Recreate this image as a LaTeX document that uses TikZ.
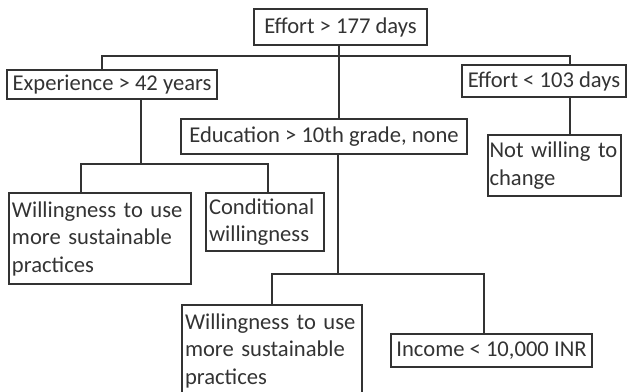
\documentclass[tikz,border=0pt]{standalone}
\usepackage{fontspec}
\setmainfont{Carlito}
\definecolor{ink}{HTML}{333333}
\begin{document}
\begin{tikzpicture}[x=1pt,y=-1pt,
  box/.style={draw=ink, line width=1.6pt, text=ink, inner xsep=3pt, inner ysep=0pt,
    font=\fontsize{22.6}{27.5}\selectfont},
  mbox/.style={box, align=left},
  link/.style={draw=ink, line width=1.6pt}]
\useasboundingbox (0,0) rectangle (629,391);
\clip (0,0) rectangle (629,391);
% boxes
\node[box, minimum width=173pt, minimum height=36pt] (root) at (340.5,27) {Effort > 177 days};
\node[box, minimum width=210pt, minimum height=29pt] (exp) at (112,84.5) {Experience > 42 years};
\node[box, minimum width=164pt, minimum height=32pt] (eff) at (544,81) {Effort < 103 days};
\node[box, minimum width=286pt, minimum height=35pt] (edu) at (324,136.5) {Education > 10th grade, none};
\node[mbox, text width=176pt, minimum height=91pt] (willa) at (100,238.5) {Willingness to use\\more sustainable\\practices};
\node[mbox, text width=112pt, minimum height=58pt] (cond) at (265,222) {Conditional\\willingness};
\node[mbox, inner xsep=1.5pt, text width=130pt, minimum height=61pt] (notw) at (554.5,165.5) {Not willing to\\change};
\node[mbox, text width=174pt, minimum height=91pt] (willb) at (272,350.5) {Willingness to use\\more sustainable\\practices};
\node[box, minimum width=201pt, minimum height=33pt] (inc) at (491.5,350.5) {Income < 10,000 INR};
% junctions
\coordinate (bus) at (339,56);
\coordinate (bexp) at (141,164);
\coordinate (bedu) at (338,274);
% connectors
\draw[link] ([xshift=-1.5pt]root.south) -- ([xshift=-1.5pt]root.south |- edu.north);
\draw[link] ([xshift=-10pt]exp.north) |- (bus) -| ([xshift=26pt]eff.north);
\draw[link] ([xshift=29pt]exp.south) -- (bexp);
\draw[link] ([xshift=-19pt]willa.north) |- (bexp) -| ([xshift=3pt]cond.north);
\draw[link] ([xshift=26pt]eff.south) -- ([xshift=26pt]eff.south |- notw.north);
\draw[link] ([xshift=14pt]edu.south) -- (bedu);
\draw[link] (willb.north) |- (bedu) -| ([xshift=-7.5pt]inc.north);
\end{tikzpicture}
\end{document}
